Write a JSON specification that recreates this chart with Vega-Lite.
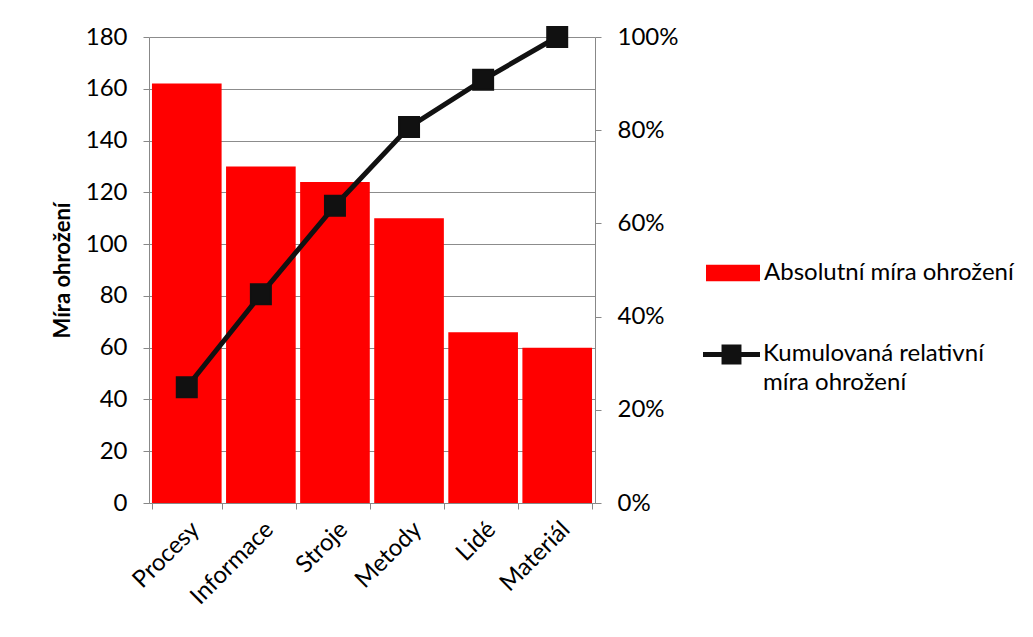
{
  "$schema": "https://vega.github.io/schema/vega-lite/v6.json",
  "autosize": {"type": "none"},
  "width": 446,
  "height": 466,
  "padding": {"left": 149, "top": 37, "right": 438, "bottom": 134},
  "background": "white",
  "config": {
    "font": "Lato",
    "view": {"stroke": null},
    "axis": {
      "labelFont": "Lato",
      "labelFontSize": 24,
      "labelColor": "black",
      "domainColor": "#888888",
      "tickColor": "#888888",
      "tickSize": 6,
      "gridColor": "#8c8c8c",
      "gridWidth": 1
    }
  },
  "data": {
    "values": [
      {"kat": "Procesy", "abs": 162, "kum": 0.2485},
      {"kat": "Informace", "abs": 130, "kum": 0.4479},
      {"kat": "Stroje", "abs": 124, "kum": 0.638},
      {"kat": "Metody", "abs": 110, "kum": 0.8067},
      {"kat": "Lidé", "abs": 66, "kum": 0.908},
      {"kat": "Materiál", "abs": 60, "kum": 1.0}
    ]
  },
  "encoding": {
    "x": {
      "field": "kat",
      "type": "nominal",
      "sort": null,
      "scale": {"paddingInner": 0.06, "paddingOuter": 0.04},
      "axis": {
        "title": null,
        "labelAngle": -45,
        "labelPadding": 8,
        "tickBand": "extent",
        "grid": false
      }
    }
  },
  "layer": [
    {
      "mark": {"type": "bar"},
      "encoding": {
        "y": {
          "field": "abs",
          "type": "quantitative",
          "scale": {"domain": [0, 180]},
          "axis": {
            "title": "Míra ohrožení",
            "titleFont": "Lato",
            "titleFontSize": 22,
            "titleFontWeight": "bold",
            "titleColor": "black",
            "titlePadding": 11,
            "values": [0, 20, 40, 60, 80, 100, 120, 140, 160, 180],
            "labelPadding": 16,
            "grid": true
          }
        },
        "fill": {
          "datum": "Absolutní míra ohrožení",
          "type": "nominal",
          "scale": {"range": ["#ff0000"]},
          "legend": {
            "title": null,
            "orient": "none",
            "legendX": 557,
            "legendY": 209,
            "padding": 0,
            "labelFont": "Lato",
            "labelFontSize": 24,
            "labelLimit": 500,
            "labelColor": "black",
            "labelOffset": 4,
            "symbolType": "M-1,-0.31H1V0.31H-1Z",
            "symbolSize": 2916,
            "symbolStrokeWidth": 0
          }
        }
      }
    },
    {
      "mark": {
        "type": "line",
        "strokeWidth": 5,
        "point": {"shape": "square", "size": 400, "filled": true, "color": "#111111"}
      },
      "encoding": {
        "y": {
          "field": "kum",
          "type": "quantitative",
          "scale": {"domain": [0, 1]},
          "axis": {
            "title": null,
            "orient": "right",
            "format": ".0%",
            "values": [0, 0.2, 0.4, 0.6, 0.8, 1],
            "labelPadding": 16,
            "grid": false
          }
        },
        "stroke": {
          "datum": "Kumulovaná relativní míra ohrožení",
          "type": "nominal",
          "scale": {"range": ["#111111"]},
          "legend": {
            "title": null,
            "orient": "none",
            "legendX": 554,
            "legendY": 289,
            "padding": 0,
            "labelFont": "Lato",
            "labelFontSize": 24,
            "labelLimit": 500,
            "labelColor": "black",
            "labelOffset": 3,
            "labelBaseline": "top",
            "labelExpr": "['Kumulovaná relativní', 'míra ohrožení']",
            "symbolType": "M-1,-0.09H-0.35V-0.35H0.35V-0.09H1V0.09H0.35V0.35H-0.35V0.09H-1Z",
            "symbolSize": 3249,
            "symbolFillColor": "#111111",
            "symbolStrokeWidth": 0,
            "encode": {
              "labels": {"update": {"dy": {"value": -13}, "lineHeight": {"value": 29}}},
              "symbols": {"update": {"fill": {"value": "#111111"}, "strokeWidth": {"value": 0}}}
            }
          }
        }
      }
    }
  ],
  "resolve": {"scale": {"y": "independent"}}
}
